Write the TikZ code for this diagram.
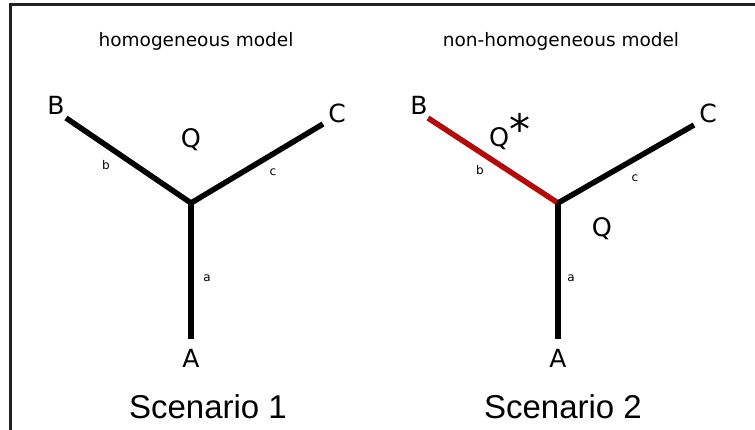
\documentclass[tikz,border=0pt]{standalone}
\usepackage{fontspec}
\usepackage{tikz}
\usetikzlibrary{positioning}
\setmainfont{DejaVu Sans}
\newfontfamily\scenariofont{Liberation Sans}
\definecolor{TreeBlack}{HTML}{000000}
\definecolor{TreeRed}{HTML}{B40A0A}
\definecolor{FrameGrey}{HTML}{222222}

\begin{document}
\begin{tikzpicture}[x=1pt,y=-1pt]
    \tikzset{branch/.style={line width=5.5pt,TreeBlack},
      shiftbranch/.style={line width=5.5pt,TreeRed},
      tiplabel/.style={inner sep=0pt,font=\fontsize{25}{25}\selectfont},
      ratelabel/.style={inner sep=0pt,font=\fontsize{25.5}{25.5}\selectfont},
      lenlabel/.style={inner sep=0pt,font=\fontsize{12}{12}\selectfont},
      modeltitle/.style={inner sep=0pt,anchor=base,font=\fontsize{18.5}{18.5}\selectfont},
      scenariotitle/.style={inner sep=0pt,anchor=base,font=\scenariofont\fontsize{33}{33}\selectfont}}
    \useasboundingbox (0,0) rectangle (755,430);
    % frame (cut off on the right and at the bottom)
    \coordinate (frameTL) at (10,5);
    \coordinate (frameTR) at (755,5);
    \coordinate (frameBL) at (10,430);
    \draw[line width=3pt,FrameGrey] (frameBL)--(frameTL)--(frameTR);

    % scenario 1: homogeneous model
    \coordinate (hRoot) at (191,203);
    \coordinate (hA) at (191,339);
    \coordinate (hB) at (66,118);
    \coordinate (hC) at (323,124);
    \draw[branch] (hRoot)--(hB);
    \draw[branch] (hRoot)--(hC);
    \draw[branch] (hRoot)--(hA);
    \node[modeltitle] (hTitle) at (196,47) {homogeneous model};
    \node[tiplabel] (hLabelB) at (56,105) {B};
    \node[tiplabel] (hLabelC) at (337,113) {C};
    \node[tiplabel] (hLabelA) at (191,358) {A};
    \node[ratelabel] (hQ) at (191,140) {Q};
    \node[lenlabel] (hb) at (106,165) {b};
    \node[lenlabel] (hc) at (273,172) {c};
    \node[lenlabel] (ha) at (207,278) {a};
    \node[scenariotitle] (hScenario) at (208,418) {Scenario 1};

    % scenario 2: non-homogeneous model
    \coordinate (nRoot) at (558,203);
    \coordinate (nA) at (558,339);
    \coordinate (nB) at (428,118);
    \coordinate (nC) at (694,125);
    \draw[shiftbranch] (nRoot)--(nB);
    \draw[branch] (nRoot)--(nC);
    \draw[branch] (nRoot)--(nA);
    \node[modeltitle] (nTitle) at (561,47) {non-homogeneous model};
    \node[tiplabel] (nLabelB) at (419,105) {B};
    \node[tiplabel] (nLabelC) at (708,113) {C};
    \node[tiplabel] (nLabelA) at (558,358) {A};
    \node[ratelabel,anchor=base west] (nQstar) at (489,147) {Q\raisebox{2pt}{\fontsize{42}{42}\selectfont *}};
    \node[ratelabel] (nQ) at (602,229) {Q};
    \node[lenlabel] (nb) at (480,170) {b};
    \node[lenlabel] (nc) at (635,178) {c};
    \node[lenlabel] (na) at (571,278) {a};
    \node[scenariotitle] (nScenario) at (563,418) {Scenario 2};
\end{tikzpicture}
\end{document}
